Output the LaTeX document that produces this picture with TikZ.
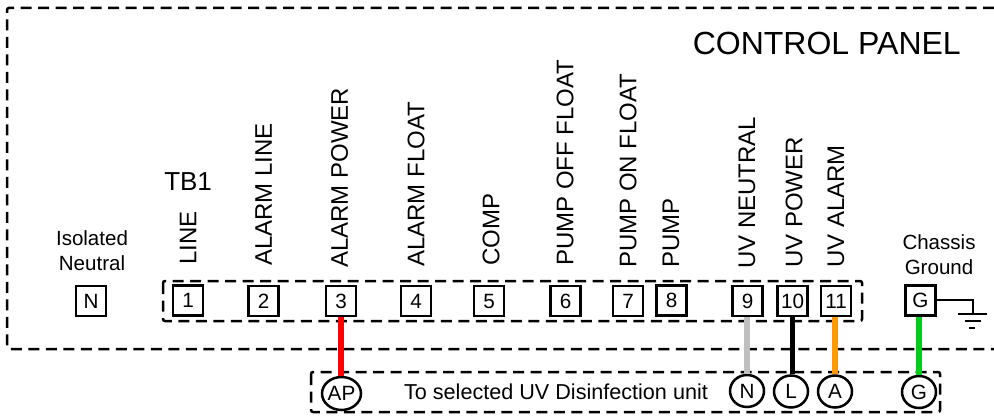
\documentclass[tikz,border=0pt]{standalone}
\usepackage{fontspec}
\usetikzlibrary{shapes.geometric}
\setmainfont{Liberation Sans}
\newlength{\du}
\setlength{\du}{0.75pt}
\definecolor{wirered}{rgb}{1.000000, 0.000000, 0.000000}
\definecolor{wiregray}{rgb}{0.750000, 0.750000, 0.750000}
\definecolor{wireorange}{rgb}{1.000000, 0.600000, 0.000000}
\definecolor{wiregreen}{rgb}{0.000000, 0.800000, 0.100000}
\tikzset{
  frameline/.style={line width=2.5\du,rounded corners=2\du,dash pattern=on 11\du off 6.5\du},
  termbox/.style={draw,line width=2.5\du,minimum size=30\du,inner sep=0pt,font=\fontsize{15.5pt}{18pt}\selectfont},
  plugcirc/.style={draw,ellipse,line width=2.5\du,minimum width=34\du,minimum height=32\du,inner sep=0pt,font=\fontsize{15.5pt}{18pt}\selectfont},
  termlabel/.style={rotate=90,anchor=west,inner sep=0pt,font=\fontsize{18pt}{20pt}\selectfont},
  smalllabel/.style={align=center,inner sep=0pt,font=\fontsize{15.4pt}{18.6pt}\selectfont},
  wire/.style={line width=5.5\du},
  gndline/.style={line width=2\du}
}
\begin{document}
\begin{tikzpicture}[x=\du,y=-\du]
\useasboundingbox (0,0) rectangle (994,416);
% frames
\draw[frameline] (994,8)--(7,8)--(7,349)--(994,349);
\draw[frameline] (163,281) rectangle (862,321);
\draw[frameline] (311,372) rectangle (940,412);
% terminals
\node[termbox] (boxN) at (91,301) {N};
\node[termbox] (box1) at (188,300.5) {1};
\node[termbox] (box2) at (263.5,301) {2};
\node[termbox] (box3) at (341,301) {3};
\node[termbox] (box4) at (416,301) {4};
\node[termbox] (box5) at (489,301) {5};
\node[termbox] (box6) at (565.5,301) {6};
\node[termbox] (box7) at (628,301) {7};
\node[termbox] (box8) at (671.5,300.5) {8};
\node[termbox] (box9) at (747.5,301) {9};
\node[termbox] (box10) at (792.5,301) {10};
\node[termbox] (box11) at (836,301) {11};
\node[termbox] (boxG) at (920.5,300.5) {G};
% plugs
\node[plugcirc,minimum width=36\du,minimum height=33\du] (plugAP) at (341.5,393.5) {AP};
\node[plugcirc] (plugN) at (747,391) {N};
\node[plugcirc] (plugL) at (791,391.5) {L};
\node[plugcirc] (plugA) at (835,391.5) {A};
\node[plugcirc] (plugG) at (919,392) {G};
% wires
\draw[wire,wirered] (box3.south)--(box3.south|-plugAP.north);
\draw[wire,wiregray] (plugN.north|-box9.south)--(plugN.north);
\draw[wire,black] (box10.south)--(box10.south|-plugL.north);
\draw[wire,wireorange] (plugA.north|-box11.south)--(plugA.north);
\draw[wire,wiregreen] (plugG.north|-boxG.south)--(plugG.north);
% labels
\node[termlabel] (lblLine) at (188,265) {LINE};
\node[termlabel] (lblAlarmLine) at (263.5,266) {ALARM LINE};
\node[termlabel] (lblAlarmPower) at (339.5,268) {ALARM POWER};
\node[termlabel] (lblAlarmFloat) at (416,267) {ALARM FLOAT};
\node[termlabel] (lblComp) at (491,266) {COMP};
\node[termlabel] (lblOffFloat) at (565,266) {PUMP OFF FLOAT};
\node[termlabel] (lblOnFloat) at (628,268) {PUMP ON FLOAT};
\node[termlabel] (lblPump) at (671,268) {PUMP};
\node[termlabel] (lblUvNeutral) at (747,269) {UV NEUTRAL};
\node[termlabel] (lblUvPower) at (794,268) {UV POWER};
\node[termlabel] (lblUvAlarm) at (836,268) {UV ALARM};
\node[anchor=east,inner sep=0pt,font=\fontsize{24pt}{28pt}\selectfont] (lblPanel) at (961,43.5) {CONTROL PANEL};
\node[anchor=west,inner sep=0pt,font=\fontsize{19.5pt}{20pt}\selectfont] (lblTB) at (164,181.5) {TB1};
\node[smalllabel] (lblIsolated) at (92,251) {Isolated\\Neutral};
\node[smalllabel] (lblChassis) at (939,255) {Chassis\\Ground};
\node[inner sep=0pt,font=\fontsize{16.2pt}{18pt}\selectfont] (lblUnit) at (556,392) {To selected UV Disinfection unit};
% ground
\coordinate (gndTop) at (973,313.5);
\draw[gndline] (boxG.east|-0,299.5)-|(gndTop);
\draw[gndline] (958,313.5)--(987,313.5);
\draw[gndline] (965,321)--(981,321);
\draw[gndline] (969,328)--(975,328);
\end{tikzpicture}
\end{document}
